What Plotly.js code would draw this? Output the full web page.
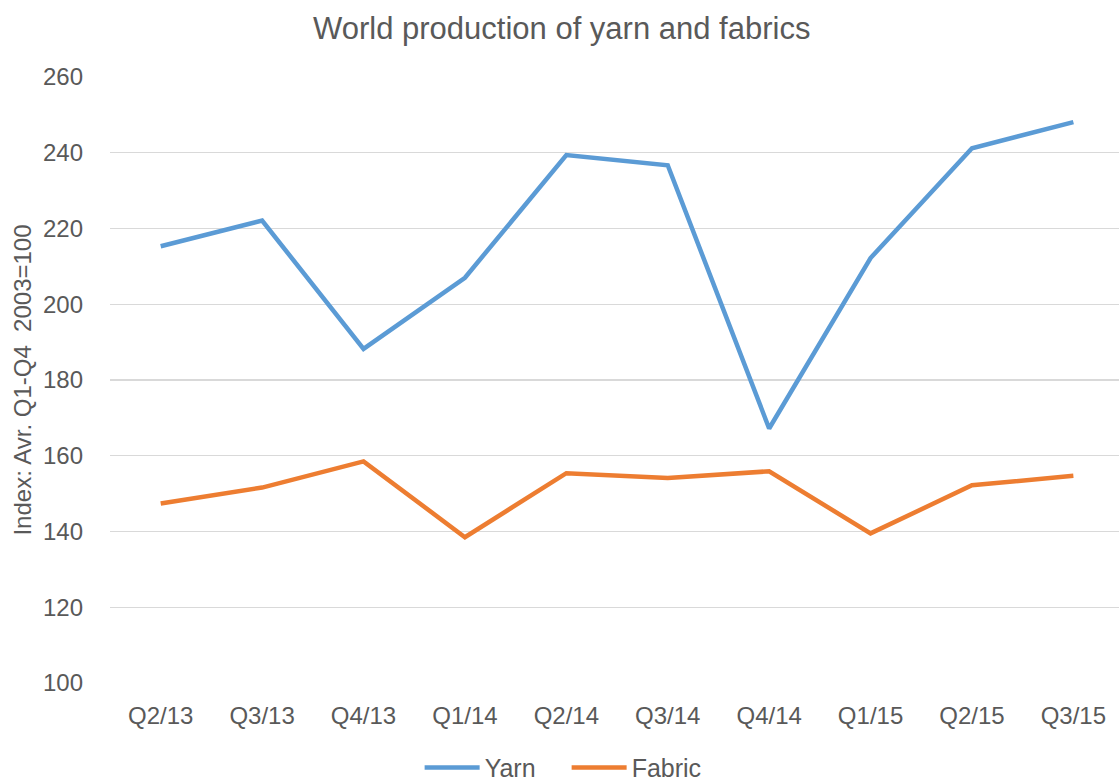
<!DOCTYPE html>
<html>
<head>
<meta charset="utf-8">
<script src="https://cdn.plot.ly/plotly-3.0.1.min.js"></script>
<style>html,body{margin:0;padding:0;background:#fff;}#chart{width:1119px;height:781px;}</style>
</head>
<body>
<div id="chart"></div>
<script>
const categories = ["Q2/13","Q3/13","Q4/13","Q1/14","Q2/14","Q3/14","Q4/14","Q1/15","Q2/15","Q3/15"];
const yarn = [215.3, 222.1, 188.2, 207.0, 239.4, 236.7, 167.2, 212.2, 241.2, 248.1];
const fabric = [147.4, 151.6, 158.5, 138.5, 155.4, 154.1, 155.9, 139.5, 152.2, 154.7];
const yTicks = [100,120,140,160,180,200,220,240,260];

const font = "Liberation Sans, Arial, sans-serif";
const grey = "#595959";

const traces = [
  {x: categories, y: yarn, name: "Yarn", type: "scatter", mode: "lines",
   line: {color: "#5B9BD5", width: 4.5}},
  {x: categories, y: fabric, name: "Fabric", type: "scatter", mode: "lines",
   line: {color: "#ED7D31", width: 4.5}}
];

const layout = {
  width: 1119, height: 781,
  margin: {l: 110, r: 0, t: 77, b: 98},
  paper_bgcolor: "#fff", plot_bgcolor: "#fff",
  font: {family: font, color: grey},
  title: {text: "World production of yarn and fabrics", font: {size: 31, color: grey, family: font},
          x: 0.502, xanchor: "center", y: 0.964, yanchor: "middle"},
  xaxis: {type: "category", range: [-0.5, 9.45], showgrid: false, zeroline: false, automargin: false,
          showline: false, ticks: "", tickfont: {size: 24, color: grey}, ticklabelstandoff: 16},
  yaxis: {range: [100, 260], tickvals: yTicks, showgrid: true, gridcolor: "#d9d9d9", gridwidth: 1.3,
          zeroline: false, showline: false, ticks: "", tickfont: {size: 24, color: grey}, automargin: false,
          ticklabelstandoff: 26,
          title: {text: "Index: Avr. Q1-Q4&nbsp;&nbsp;2003=100", font: {size: 24, color: grey}, standoff: 4}},
  legend: {orientation: "h", xref: "container", yref: "container",
           x: 0.375, xanchor: "left", y: 0.017, yanchor: "middle",
           font: {size: 25, color: grey}, itemwidth: 55, entrywidth: 77, entrywidthmode: "pixels",
           traceorder: "normal", bgcolor: "rgba(0,0,0,0)"},
  showlegend: true
};

Plotly.newPlot("chart", traces, layout, {displayModeBar: false, staticPlot: true});
</script>
</body>
</html>
